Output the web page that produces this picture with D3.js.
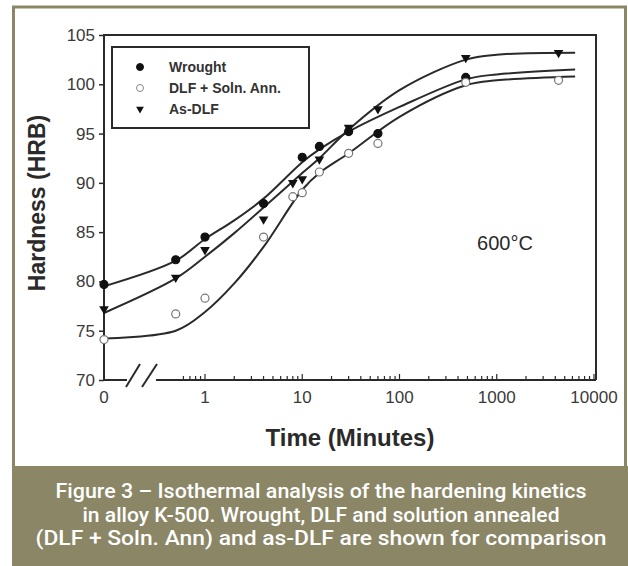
<!DOCTYPE html>
<html>
<head>
<meta charset="utf-8">
<script src="https://cdn.jsdelivr.net/npm/d3@7"></script>
<style>
  body { margin: 0; background: #fff; }
  svg { display: block; }
</style>
</head>
<body>
<svg id="chart" width="628" height="566"></svg>
<script>
// measured points, time in minutes (0 = as received)
const wroughtT = [0, 0.5, 1, 4, 10, 15, 30, 60, 480];
const wroughtV = [79.7, 82.2, 84.5, 87.9, 92.6, 93.7, 95.2, 95.0, 100.7];
const dlfT = [0, 0.5, 1, 4, 8, 10, 15, 30, 60, 480, 4320];
const dlfV = [74.1, 76.7, 78.3, 84.5, 88.6, 89.0, 91.1, 93.0, 94.0, 100.2, 100.4];
const asT = [0, 0.5, 1, 4, 8, 10, 15, 30, 60, 480, 4320];
const asV = [77.1, 80.3, 83.1, 86.2, 89.9, 90.3, 92.3, 95.5, 97.4, 102.6, 103.1];

// fitted curves
const fitT = [0, 0.5, 1, 2, 4, 10, 15, 30, 100, 480, 1000, 6400];
const wroughtFit = [79.5, 82.1, 84.3, 86.2, 88.4, 92.1, 93.4, 95.2, 97.7, 100.5, 101.0, 101.5];
const dlfFit = [74.2, 75.0, 76.9, 79.8, 83.5, 89.3, 91.0, 93.0, 96.7, 99.9, 100.4, 100.8];
const asFit = [76.8, 80.3, 82.5, 84.9, 87.5, 91.0, 92.5, 95.4, 99.4, 102.5, 103.0, 103.2];

const yTicks = [70, 75, 80, 85, 90, 95, 100, 105];
const xMajor = [1, 10, 100, 1000, 10000];
const legendNames = ["Wrought", "DLF + Soln. Ann.", "As-DLF"];
const captionLines = [
  "Figure 3 \u2013 Isothermal analysis of the hardening kinetics",
  "in alloy K-500. Wrought, DLF and solution annealed",
  "(DLF + Soln. Ann) and as-DLF are shown for comparison"
];

const svg = d3.select("#chart");
const olive = "#8b8666";
const ink = "#2a2a2a";
const font = "'Liberation Sans', Arial, sans-serif";

// frame + caption band
svg.append("rect").attr("x", 13.5).attr("y", 7).attr("width", 612).attr("height", 470)
  .attr("fill", "#fff").attr("stroke", olive).attr("stroke-width", 3);
svg.append("rect").attr("x", 12).attr("y", 466).attr("width", 616).attr("height", 100).attr("fill", olive);

const plot = { left: 104, right: 596, top: 35, bottom: 380 };
const y = d3.scaleLinear().domain([70, 105]).range([plot.bottom, plot.top]);
const xLog = d3.scaleLog().domain([1, 10000]).range([205, 594]);
const xPos = t => t === 0 ? plot.left : xLog(t);

// y axis
const yAxis = svg.append("g").attr("transform", `translate(${plot.left},0)`)
  .call(d3.axisLeft(y).tickValues(yTicks).tickSize(5).tickPadding(4));
yAxis.select(".domain").remove();
yAxis.selectAll("line").attr("stroke", ink).attr("stroke-width", 1.5);
yAxis.selectAll("text").attr("font-family", font).attr("font-size", 17).attr("fill", "#3a3a3a");

// box (left, top, right)
svg.append("path")
  .attr("d", `M${plot.left},${plot.bottom}V${plot.top}H${plot.right}V${plot.bottom}`)
  .attr("fill", "none").attr("stroke", ink).attr("stroke-width", 2);

// broken x axis
svg.append("line").attr("x1", plot.left).attr("x2", 127).attr("y1", plot.bottom).attr("y2", plot.bottom)
  .attr("stroke", ink).attr("stroke-width", 2);
svg.append("line").attr("x1", 156).attr("x2", plot.right).attr("y1", plot.bottom).attr("y2", plot.bottom)
  .attr("stroke", ink).attr("stroke-width", 2);
[[126, 387, 140, 364], [142, 387, 157, 364]].forEach(s => {
  svg.append("line").attr("x1", s[0]).attr("y1", s[1]).attr("x2", s[2]).attr("y2", s[3])
    .attr("stroke", ink).attr("stroke-width", 2);
});

// x ticks (inward)
const minor = [];
[0.1, 1, 10, 100, 1000].forEach(d => { for (let k = 1; k <= 9; k++) minor.push(d * k); });
const minorTicks = minor.filter(v => v >= 0.6 && v < 10000 && xMajor.indexOf(v) < 0);
svg.append("g").selectAll("line").data(minorTicks).join("line")
  .attr("x1", d => xLog(d)).attr("x2", d => xLog(d))
  .attr("y1", plot.bottom).attr("y2", plot.bottom - 4)
  .attr("stroke", ink).attr("stroke-width", 1.2);
svg.append("g").selectAll("line").data(xMajor).join("line")
  .attr("x1", d => xLog(d)).attr("x2", d => xLog(d))
  .attr("y1", plot.bottom).attr("y2", plot.bottom - 6)
  .attr("stroke", ink).attr("stroke-width", 1.2);
svg.append("g").selectAll("text").data([0].concat(xMajor)).join("text")
  .attr("x", d => xPos(d)).attr("y", 403)
  .attr("text-anchor", "middle").attr("font-family", font).attr("font-size", 17).attr("fill", "#3a3a3a")
  .text(d => d);

// axis titles
svg.append("text").attr("x", 350).attr("y", 446).attr("text-anchor", "middle")
  .attr("font-family", font).attr("font-weight", "bold").attr("font-size", 24).attr("fill", ink)
  .text("Time (Minutes)");
svg.append("text").attr("transform", "translate(45,203) rotate(-90)").attr("text-anchor", "middle")
  .attr("font-family", font).attr("font-weight", "bold").attr("font-size", 23).attr("fill", ink)
  .text("Hardness (HRB)");

svg.append("text").attr("x", 505).attr("y", 250).attr("text-anchor", "middle")
  .attr("font-family", font).attr("font-size", 20).attr("fill", ink).text("600\u00B0C");

// fitted curves
const line = d3.line().x(d => xPos(d[0])).y(d => y(d[1])).curve(d3.curveCatmullRom.alpha(0.5));
[wroughtFit, dlfFit, asFit].forEach(fit => {
  svg.append("path").datum(fitT.map((t, i) => [t, fit[i]])).attr("d", line)
    .attr("fill", "none").attr("stroke", ink).attr("stroke-width", 2);
});

// markers
const tri = d3.symbol().type(d3.symbolTriangle).size(40);
function drawCircles(ts, vs, filled) {
  svg.append("g").selectAll("circle").data(ts.map((t, i) => [t, vs[i]])).join("circle")
    .attr("cx", d => xPos(d[0])).attr("cy", d => y(d[1])).attr("r", 4)
    .attr("fill", filled ? "#111" : "#fff").attr("stroke", filled ? "#111" : "#777").attr("stroke-width", 1.2);
}
drawCircles(wroughtT, wroughtV, true);
drawCircles(dlfT, dlfV, false);
svg.append("g").selectAll("path").data(asT.map((t, i) => [t, asV[i]])).join("path")
  .attr("d", tri).attr("transform", d => `translate(${xPos(d[0])},${y(d[1]) - 1}) rotate(180)`)
  .attr("fill", "#111");

// legend
svg.append("rect").attr("x", 112).attr("y", 47).attr("width", 197).attr("height", 81)
  .attr("fill", "#fff").attr("stroke", ink).attr("stroke-width", 2);
const lg = svg.append("g").selectAll("g").data(legendNames).join("g")
  .attr("transform", (d, i) => `translate(140,${67 + i * 21})`);
lg.append("text").attr("x", 29).attr("dy", "0.35em").attr("font-family", font).attr("font-weight", "bold")
  .attr("font-size", 14).attr("fill", "#333").text(d => d);
lg.filter((d, i) => i < 2).append("circle").attr("r", 3.5)
  .attr("fill", (d, i) => i === 0 ? "#111" : "#fff").attr("stroke", (d, i) => i === 0 ? "#111" : "#888");
lg.filter((d, i) => i === 2).append("path").attr("d", d3.symbol().type(d3.symbolTriangle).size(26))
  .attr("transform", "rotate(180)").attr("fill", "#111");

// caption
const capWidths = [531, 477, 571];
svg.append("g").selectAll("text").data(captionLines).join("text")
  .attr("x", 321).attr("y", (d, i) => 498 + i * 23.5).attr("text-anchor", "middle")
  .attr("font-family", "Roboto, 'Open Sans', sans-serif").attr("font-weight", 500).attr("font-size", 21)
  .attr("fill", "#fff").attr("textLength", (d, i) => capWidths[i]).attr("lengthAdjust", "spacingAndGlyphs")
  .text(d => d);
</script>
</body>
</html>
